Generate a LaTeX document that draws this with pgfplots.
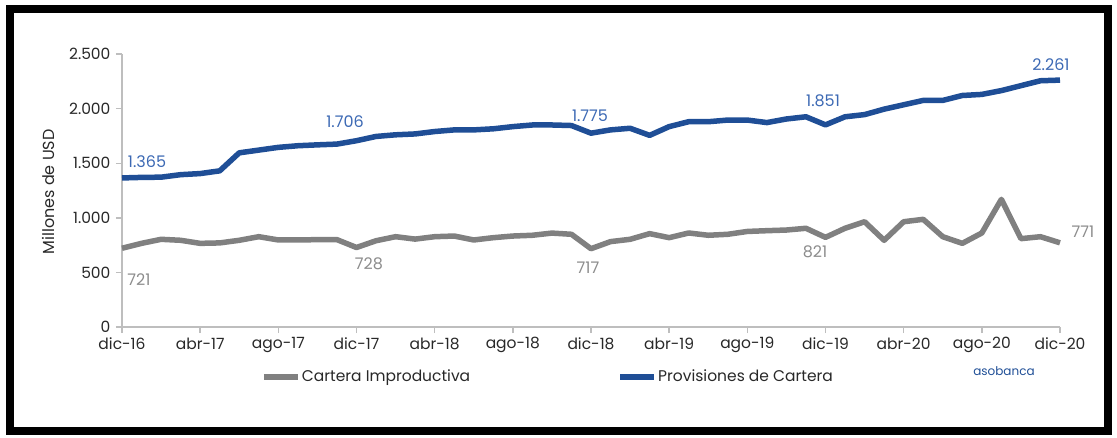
\documentclass[border=0pt]{standalone}
\usepackage{fontspec}
\setmainfont{Poppins}
\usepackage{pgfplots}
\pgfplotsset{compat=1.18}
\definecolor{navy}{RGB}{31,78,150}
\definecolor{lblblue}{RGB}{60,105,180}
\definecolor{gline}{RGB}{128,128,128}
\definecolor{glbl}{RGB}{140,140,140}
\definecolor{axgray}{RGB}{190,190,190}
\definecolor{txt}{RGB}{40,40,40}
\begin{document}
\begin{tikzpicture}[x=1pt,y=1pt]
\useasboundingbox (0,0) rectangle (1117,437);
\draw[line width=8pt] (10,6) rectangle (1108,428);
\begin{axis}[
  at={(122pt,110pt)}, anchor=south west,
  scale only axis, width=938pt, height=273pt,
  xmin=0, xmax=48, ymin=0, ymax=2500,
  clip=false,
  axis x line=bottom, axis y line=left,
  axis line style={-, draw=axgray, line width=1.6pt},
  tick style={draw=axgray, line width=1.4pt},
  tick align=outside, major tick length=6pt,
  xtick={0,4,...,48},
  xticklabels={dic-16,abr-17,ago-17,dic-17,abr-18,ago-18,dic-18,abr-19,ago-19,dic-19,abr-20,ago-20,dic-20},
  ytick={0,500,1000,1500,2000,2500},
  yticklabels={0,500,1.000,1.500,2.000,2.500},
  tick label style={font=\fontsize{15.5}{17}\selectfont, text=txt},
  xticklabel style={yshift=-1pt},
  yticklabel style={xshift=-2pt},
  legend style={at={(axis cs:7.1,-455)}, anchor=west, draw=none, fill=none,
    inner sep=0pt, font=\fontsize{15.5}{17}\selectfont, text=txt,
    legend columns=2, nodes={inner sep=1pt},
    /tikz/every even column/.append style={column sep=146pt}},
  legend image code/.code={\draw[#1, line width=6pt] (0pt,0pt) -- (34pt,0pt);},
  legend cell align=left,
]
\addplot[gline, line width=5.5pt, line join=round] coordinates {
(0,721) (1,766) (2,803) (3,794) (4,766) (5,770) (6,794) (7,827) (8,797) (9,797)
(10,800) (11,800) (12,728) (13,790) (14,827) (15,805) (16,827) (17,833) (18,797) (19,818)
(20,833) (21,840) (22,860) (23,849) (24,717) (25,782) (26,803) (27,855) (28,818) (29,861)
(30,840) (31,849) (32,875) (33,882) (34,888) (35,904) (36,821) (37,904) (38,964) (39,794)
(40,964) (41,986) (42,827) (43,766) (44,861) (45,1169) (46,809) (47,827) (48,771)};
\addlegendentry{Cartera Improductiva}
\addplot[navy, line width=5.5pt, line join=round] coordinates {
(0,1365) (1,1370) (2,1372) (3,1395) (4,1405) (5,1430) (6,1595) (7,1620) (8,1645) (9,1660)
(10,1668) (11,1675) (12,1706) (13,1745) (14,1760) (15,1768) (16,1790) (17,1805) (18,1805) (19,1815)
(20,1835) (21,1850) (22,1850) (23,1845) (24,1775) (25,1805) (26,1820) (27,1755) (28,1835) (29,1880)
(30,1880) (31,1895) (32,1895) (33,1872) (34,1905) (35,1925) (36,1851) (37,1925) (38,1945) (39,1995)
(40,2035) (41,2075) (42,2075) (43,2120) (44,2130) (45,2165) (46,2210) (47,2255) (48,2261)};
\addlegendentry{Provisiones de Cartera}
\end{axis}
\begin{scope}[every node/.style={font=\fontsize{16}{18}\selectfont, inner sep=0pt}]
\node[text=lblblue] at (147,275) {1.365};
\node[text=glbl] at (139,157) {721};
\node[text=lblblue] at (345,315) {1.706};
\node[text=glbl] at (369,173) {728};
\node[text=lblblue] at (590,321) {1.775};
\node[text=glbl] at (588,169) {717};
\node[text=lblblue] at (823,336) {1.851};
\node[text=glbl] at (815,185) {821};
\node[text=lblblue] at (1051,372) {2.261};
\node[text=glbl] at (1083,205) {771};
\node[text=txt, rotate=90] at (48,245) {Millones de USD};
\node[text=navy, font=\fontsize{12}{14}\selectfont] at (1004,66) {asobanca};
\end{scope}
\end{tikzpicture}
\end{document}
